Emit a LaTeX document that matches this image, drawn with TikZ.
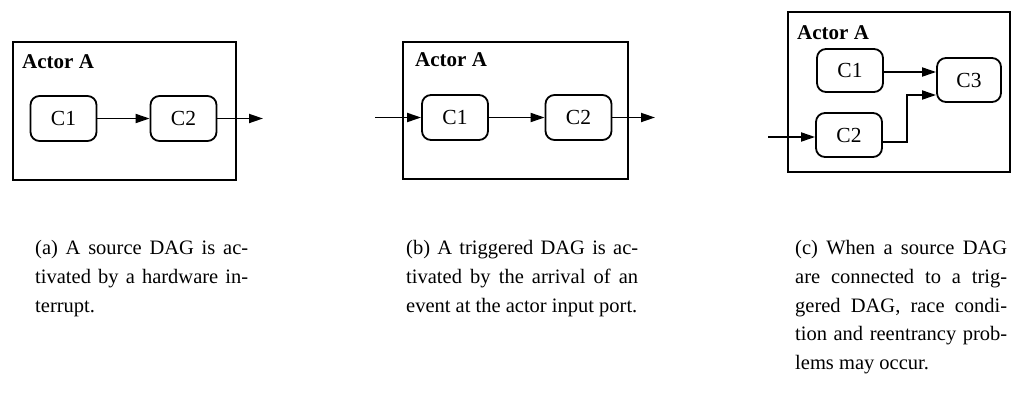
\documentclass[tikz,border=0pt]{standalone}
\usepackage{fontspec}
\setmainfont{Liberation Serif}
\usetikzlibrary{arrows.meta}
\tikzset{
  comp/.style={draw, line width=1.8pt, rounded corners=9pt, minimum width=66pt, minimum height=45pt, inner sep=0pt, font=\fontsize{21.5}{24}\selectfont},
  actor/.style={draw, line width=1.8pt},
  alabel/.style={anchor=base west, inner sep=0pt, font=\fontsize{21}{24}\selectfont\bfseries},
  conn/.style={line width=1.8pt, -{Triangle[length=14pt,width=9pt]}},
  capt/.style={anchor=north west, inner sep=0pt, align=justify, font=\fontsize{20.5}{28.8}\selectfont}
}
\begin{document}
\begin{tikzpicture}[x=1pt,y=-1pt]
\useasboundingbox (0,0) rectangle (1011,394);
% ---------- (a)
\draw[actor] (13,42) rectangle (236,180);
\node[alabel] (la) at (22,68) {Actor A};
\node[comp] (a1) at (63.5,118.5) {C1};
\node[comp] (a2) at (183.5,118.5) {C2};
\coordinate (aout) at (263,118.5);
\draw[conn] (a1) -- (a2);
\draw[conn] (a2) -- (aout);
\node[capt, text width=213pt] (ca) at (35,240) {(a) A source DAG is ac-\linebreak tivated by a hardware in-\linebreak terrupt.};
% ---------- (b)
\draw[actor] (403,42) rectangle (628,179);
\node[alabel] (lb) at (415,66) {Actor A};
\node[comp] (b1) at (455,117.5) {C1};
\node[comp] (b2) at (578.5,117.5) {C2};
\coordinate (bin) at (375,117.5);
\coordinate (bout) at (655,117.5);
\draw[conn] (bin) -- (b1);
\draw[conn] (b1) -- (b2);
\draw[conn] (b2) -- (bout);
\node[capt, text width=232pt] (cb) at (406,240) {(b) A triggered DAG is ac-\linebreak tivated by the arrival of an\linebreak event at the actor input port.};
% ---------- (c)
\draw[actor] (788,12) rectangle (1010,172);
\node[alabel] (lc) at (797,39) {Actor A};
\node[comp, minimum height=43pt] (c1) at (850,70.5) {C1};
\node[comp, minimum width=64pt, minimum height=44pt] (c3) at (969,80) {C3};
\node[comp, minimum height=44pt] (c2) at (849,135) {C2};
\coordinate (cin) at (768,137);
\coordinate (cbend) at (907,142);
\draw[conn] (cin) -- (cin -| c2.west);
\draw[conn] (c1.east |- 0,72) -- (c3.west |- 0,72);
\draw[conn] (c2.east |- cbend) -- (cbend) -- (cbend |- 0,95) -- (c3.west |- 0,95);
\node[capt, text width=212pt] (cc) at (795,240) {(c) When a source DAG\linebreak are connected to a trig-\linebreak gered DAG, race condi-\linebreak tion and reentrancy prob-\linebreak lems may occur.};
\end{tikzpicture}
\end{document}
